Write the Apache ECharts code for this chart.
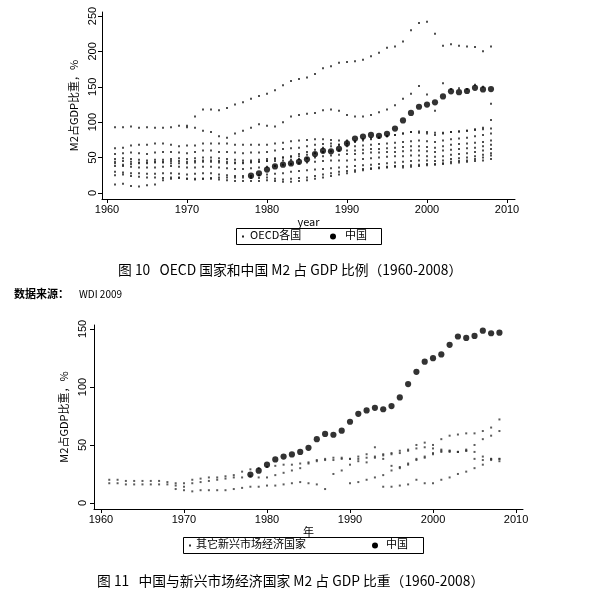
<!DOCTYPE html>
<html><head><meta charset="utf-8">
<script src="https://cdn.jsdelivr.net/npm/echarts@6/dist/echarts.min.js"></script>
<style>html,body{margin:0;padding:0;background:#fff}#c{width:594px;height:601px}</style>
</head><body><div id="c"></div>
<script>
// ---------- data ----------
const years = [1961,1962,1963,1964,1965,1966,1967,1968,1969,1970,
  1971,1972,1973,1974,1975,1976,1977,1978,1979,1980,
  1981,1982,1983,1984,1985,1986,1987,1988,1989,1990,
  1991,1992,1993,1994,1995,1996,1997,1998,1999,2000,
  2001,2002,2003,2004,2005,2006,2007,2008];
const chinaYears = [1978,1979,1980,1981,1982,1983,1984,1985,1986,1987,1988,1989,1990,
  1991,1992,1993,1994,1995,1996,1997,1998,1999,2000,2001,2002,2003,2004,2005,2006,2007,2008];
const chinaM2 = [24.5,27.8,33,37.5,40,41.8,44,47.5,55,59.5,58.8,62.3,70,
  76.8,79.8,82,80.8,83.5,91,102.5,113,121.8,124.8,128,136.3,143.5,142.3,144,148.5,146.3,146.8];

// OECD countries (1961-2008)
const oecdA = [93,93,94,92,93,92,92,93,95,93, 108,118,118,117,120,125,128,133,137,140,
  145,152,158,161,163,168,176,179,184,185, 186,188,193,198,205,207,214,230,240,242, 225,208,210,208,207,206,200,207];
const oecdB = [null,null,null,null,null,null,null,null,null,95, 92,88,86,80,78,84,88,92,97,95,
  94,100,108,110,112,113,117,118,116,110, 108,108,110,114,118,124,133,140,151,139, 116,155,147,148,147,153,150,126];
const oecdC = [63,64,67,68,68,70,70,68,66,67, 67,70,70,70,70,68,68,68,68,68,
  70,71,73,74,75,76,76,75,74,74, 73,76,77,78,80,82,84,86,85,84, 82,84,86,87,88,90,92,103];
const oecdD = [55,56,57,56,55,57,58,58,57,56, 58,60,60,58,58,57,56,57,57,58,
  60,62,63,64,66,68,69,70,68,66, 66,67,68,69,70,71,72,73,74,73, 72,74,76,77,78,80,82,84];
const oecdE = [48,49,48,47,46,47,47,48,49,48, 49,50,50,49,48,47,46,46,47,48,
  49,50,51,52,54,56,58,59,60,60, 60,61,62,62,63,64,65,66,66,65, 64,66,68,69,70,71,72,74];
const oecdF = [44,45,44,43,43,44,44,45,45,44, 45,46,46,45,44,43,43,44,44,45,
  45,46,47,48,49,50,52,53,54,55, 55,56,57,57,58,58,59,60,60,59, 58,60,61,62,63,64,66,68];
const oecdG = [38,38,37,36,36,36,37,38,37,36, 36,37,37,36,35,34,34,35,36,37,
  38,40,41,42,43,44,45,46,46,46, 47,48,49,50,51,52,52,53,53,52, 51,52,54,55,56,58,60,62];
const oecdH = [30,29,28,28,27,27,28,28,27,26, 27,28,28,26,25,24,24,24,25,26,
  27,28,30,31,32,33,34,35,36,37, 38,39,40,41,42,43,44,45,46,46, 45,46,48,49,50,52,54,56];
const oecdI = [12,13,10,9,11,12,18,20,21,20, 19,20,21,22,22,22,22,21,21,22,
  20,19,20,21,22,24,26,28,30,31, 32,34,35,36,37,38,38,39,40,41, 41,42,44,45,46,48,50,53];
const oecdJ = [25,26,24,23,22,22,21,22,22,20, 20,20,20,19,18,17,17,17,17,18,
  17,16,16,17,18,20,22,24,26,28, 30,32,34,35,36,37,36,37,38,39, 40,41,42,43,44,45,46,48];
const oecdK = [42,40,41,42,42,43,43,42,42,42, 43,44,44,43,42,42,42,43,44,45,
  48,50,52,55,58,61,64,66,68,70, 72,74,76,78,80,82,84,86,87,86, 85,85,86,87,88,89,90,91];

// other emerging market economies (1961-2008)
const emA = [20,20,19,19,19,19,19,18,17,17, 20,21,22,22,23,24,27,29,30,31,
  32,33,33,34,35,36,37,37,38,38, 40,42,48,42,43,45,46,50,52,50, 55,58,59,60,60,62,65,72];
const emB = [17,17,16,16,16,16,16,16,15,14, 17,18,19,20,21,22,22,23,22,22,
  24,26,28,30,34,37,38,39,39,38, 38,39,40,41,42,43,45,47,48,47, 46,45,44,45,50,55,58,62];
const emC = [null,null,null,null,null,null,null,null,12,11, 10,11,11,11,11,12,13,14,14,15,
  15,16,17,18,17,16,12,25,28,33, 36,35,39,38,32,30,33,38,40,43, 45,44,44,45,44,40,38,38];
const emD = [null,null,null,null,null,null,null,null,null,null, null,null,null,null,null,null,null,null,null,null,
  null,null,null,null,null,null,null,null,null,17, 18,20,22,14,14,15,16,20,17,17, 20,22,25,27,30,37,38,38];
const emE = [null,null,null,null,null,null,null,null,null,null, null,null,null,null,null,null,null,null,null,null,
  null,null,null,null,null,null,null,null,null,null, null,null,null,24,28,31,34,37,39,42, 44,45,44,46,38,33,37,36];

const oecdList = [oecdA,oecdB,oecdC,oecdD,oecdE,oecdF,oecdG,oecdH,oecdI,oecdJ,oecdK];
const emList = [emA,emB,emC,emD,emE];

const yTicks1 = [0,50,100,150,200,250];
const yTicks2 = [0,50,100,150];
const xTicks = [1960,1970,1980,1990,2000,2010];

// ---------- chart ----------
function pts(xs, vals){ const out=[]; xs.forEach((x,i)=>{ if(vals[i]!=null) out.push([x,vals[i]]); }); return out; }

const FONT = 'Liberation Sans';
const CJK = 'Noto Sans CJK SC';
function xAx(idx, min, max, name, gap){
  return {type:'value', gridIndex:idx, min:min, max:max, name:name, nameLocation:'middle', nameGap:gap,
    nameTextStyle:{fontFamily:CJK, fontSize:11, color:'#000'},
    axisLine:{show:true, onZero:false, lineStyle:{color:'#000', width:1}},
    axisTick:{show:true, length:4, customValues:xTicks, lineStyle:{color:'#000'}},
    axisLabel:{customValues:xTicks, margin:5, fontFamily:FONT, fontSize:11, color:'#000',
      formatter:v=>String(Math.round(v))},
    splitLine:{show:false}};
}
function yAx(idx, min, max, ticks, gap, margin){
  return {type:'value', gridIndex:idx, min:min, max:max, name:'M2占GDP比重，%', nameLocation:'middle', nameGap:gap,
    nameRotate:90, nameTextStyle:{fontFamily:CJK, fontSize:11, color:'#000'},
    axisLine:{show:true, onZero:false, lineStyle:{color:'#000', width:1}},
    axisTick:{show:true, length:4, customValues:ticks, lineStyle:{color:'#000'}},
    axisLabel:{customValues:ticks, rotate:90, margin:margin, fontFamily:FONT, fontSize:11, color:'#000',
      formatter:v=>String(Math.round(v))},
    splitLine:{show:false}};
}

const series = [];
oecdList.forEach(v=>series.push({type:'scatter', name:'OECD各国', xAxisIndex:0, yAxisIndex:0,
  data:pts(years,v), symbol:'rect', symbolSize:2, itemStyle:{color:'#222'}, silent:true}));
series.push({type:'scatter', name:'中国', xAxisIndex:0, yAxisIndex:0, data:pts(chinaYears,chinaM2),
  symbol:'circle', symbolSize:6.2, itemStyle:{color:'#000'}, z:5});
emList.forEach(v=>series.push({type:'scatter', name:'其它新兴市场经济国家', xAxisIndex:1, yAxisIndex:1,
  data:pts(years,v), symbol:'rect', symbolSize:2, itemStyle:{color:'#333'}, silent:true}));
series.push({type:'scatter', name:'中国 ', xAxisIndex:1, yAxisIndex:1, data:pts(chinaYears,chinaM2),
  symbol:'circle', symbolSize:6.2, itemStyle:{color:'#000'}, z:5});

const txt = (x,y,t,size,extra)=>Object.assign({type:'text', left:x, top:y,
  style:{text:t, fontFamily:CJK, fontSize:size, fill:'#000'}}, extra||{});

const chart = echarts.init(document.getElementById('c'), null, {renderer:'canvas'});
chart.setOption({
  animation:false,
  backgroundColor:'#fff',
  grid:[{left:102, top:12, width:413, height:187},
        {left:94, top:325, width:429, height:184}],
  xAxis:[xAx(0,1959.375,2011,'year',13), xAx(1,1959.16,2010.84,'年',10)],
  yAxis:[yAx(0,-8.5,255.6,yTicks1,20,4), yAx(1,-5.2,153.4,yTicks2,22,6)],
  series:series,
  graphic:[
    // legend 1
    {type:'rect', shape:{x:236.5,y:228.5,width:145,height:16}, style:{fill:'#fff',stroke:'#000',lineWidth:1}},
    {type:'rect', shape:{x:242,y:235.5,width:2,height:2}, style:{fill:'#222'}},
    txt(250,229,'OECD各国',11),
    {type:'circle', shape:{cx:333,cy:236.5,r:3}, style:{fill:'#000'}},
    txt(345,229,'中国',11),
    // caption 1
    txt(118,263,'图 10   OECD 国家和中国 M2 占 GDP 比例（1960-2008）',13.8),
    txt(14,288,'数据来源：',11,{style:{text:'数据来源：',fontFamily:CJK,fontSize:11,fontWeight:'bold',fill:'#000'}}),
    txt(79,289,'WDI 2009',10),
    // legend 2
    {type:'rect', shape:{x:183.5,y:537.5,width:240,height:16}, style:{fill:'#fff',stroke:'#000',lineWidth:1}},
    {type:'rect', shape:{x:189,y:544.5,width:2,height:2}, style:{fill:'#333'}},
    txt(196,538,'其它新兴市场经济国家',11),
    {type:'circle', shape:{cx:375,cy:545.5,r:3}, style:{fill:'#000'}},
    txt(386,538,'中国',11),
    // caption 2
    txt(97,574,'图 11   中国与新兴市场经济国家 M2 占 GDP 比重（1960-2008）',13.8)
  ]
});
</script></body></html>
